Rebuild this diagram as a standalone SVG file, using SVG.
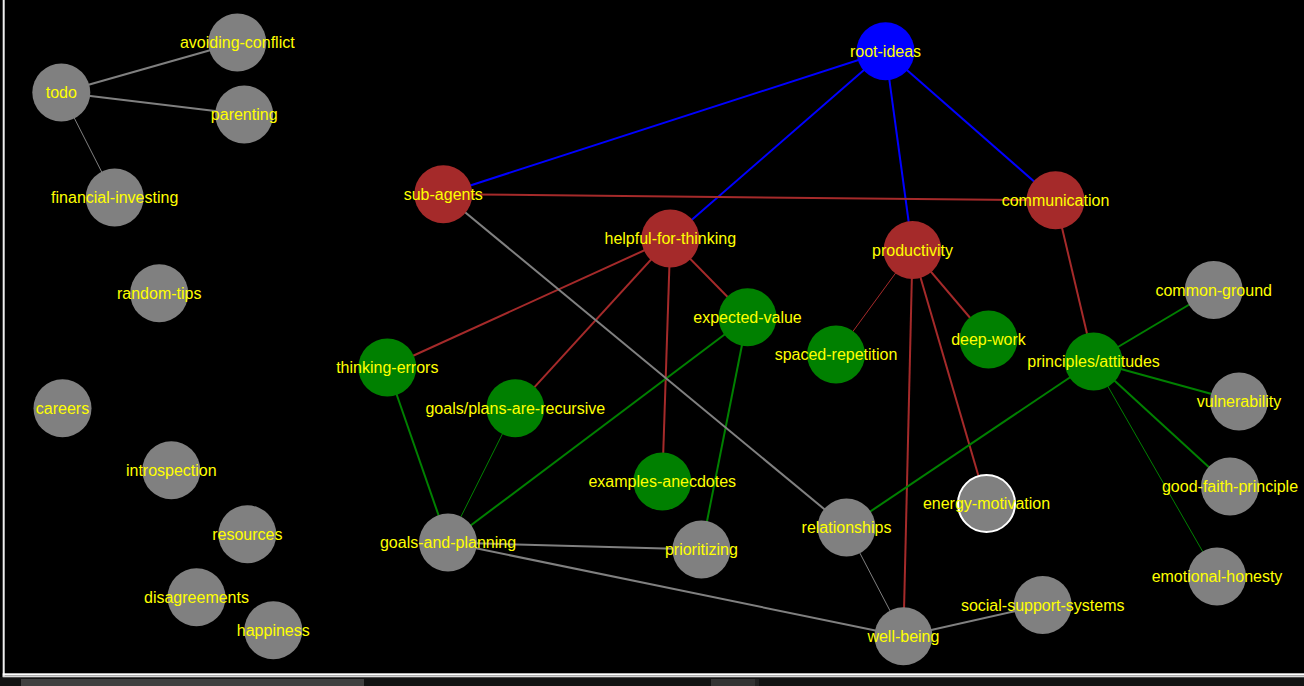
<svg xmlns="http://www.w3.org/2000/svg" width="1304" height="686" viewBox="0 0 1304 686">
<style>
.bg{fill:#000}
.root{fill:#0000ff}
.red{fill:#a52a2a}
.grn{fill:#008000}
.gry{fill:#808080}
.n circle.sel{fill:#808080;stroke:#ffffff;stroke-width:2}
.n text{font-family:"Liberation Sans",Arial,sans-serif;font-size:16px;fill:#ffff00;text-anchor:middle}
.e line{fill:none}
.eb{stroke:#0000ff;stroke-width:2}
.er{stroke:#a52a2a;stroke-width:2}
.eg{stroke:#008000;stroke-width:2}
.ey{stroke:#808080;stroke-width:2}
.e line.t1{stroke-width:1}
</style>
<rect class="bg" x="0" y="0" width="1304" height="686"/>
<rect x="0" y="677" width="1304" height="9" fill="#121212"/>
<rect x="21" y="679" width="343" height="7" fill="#404040"/>
<rect x="711" y="679" width="44" height="7" fill="#333333"/>
<rect x="755" y="679" width="4" height="7" fill="#222222"/>
<rect x="2.7" y="0" width="2" height="677" fill="#f0f0f0"/>
<rect x="2.7" y="673.3" width="1301.3" height="2.2" fill="#ffffff"/>
<rect x="2.7" y="675.5" width="1301.3" height="1.8" fill="#d8d8d8"/>
<g id="connectors" class="e">
<line class="eb" x1="885.5" y1="51.3" x2="443.3" y2="194.2"/>
<line class="eb" x1="885.5" y1="51.3" x2="670.3" y2="238.5"/>
<line class="eb" x1="885.5" y1="51.3" x2="912.5" y2="250"/>
<line class="eb" x1="885.5" y1="51.3" x2="1055.5" y2="200.3"/>
<line class="er" x1="443.3" y1="194.2" x2="1055.5" y2="200.3"/>
<line class="er" x1="670.3" y1="238.5" x2="387.3" y2="367.5"/>
<line class="er" x1="670.3" y1="238.5" x2="515.3" y2="408.2"/>
<line class="er" x1="670.3" y1="238.5" x2="662.3" y2="481.5"/>
<line class="er" x1="670.3" y1="238.5" x2="747.5" y2="317.3"/>
<line class="er t1" x1="912.5" y1="250" x2="836" y2="354.5"/>
<line class="er" x1="912.5" y1="250" x2="988.5" y2="339.5"/>
<line class="er" x1="912.5" y1="250" x2="903.4" y2="636.3"/>
<line class="er" x1="912.5" y1="250" x2="986.5" y2="503.5"/>
<line class="er" x1="1055.5" y1="200.3" x2="1093.6" y2="361.5"/>
<line class="eg" x1="387.3" y1="367.5" x2="448" y2="542.5"/>
<line class="eg t1" x1="515.3" y1="408.2" x2="448" y2="542.5"/>
<line class="eg" x1="747.5" y1="317.3" x2="448" y2="542.5"/>
<line class="eg" x1="747.5" y1="317.3" x2="701.4" y2="549.5"/>
<line class="eg" x1="1093.6" y1="361.5" x2="1213.7" y2="290"/>
<line class="eg" x1="1093.6" y1="361.5" x2="1239" y2="401.5"/>
<line class="eg" x1="1093.6" y1="361.5" x2="1230" y2="486.5"/>
<line class="eg t1" x1="1093.6" y1="361.5" x2="1217" y2="576.5"/>
<line class="eg" x1="1093.6" y1="361.5" x2="846.5" y2="527.5"/>
<line class="ey" x1="61.3" y1="92.5" x2="237.3" y2="42.5"/>
<line class="ey" x1="61.3" y1="92.5" x2="244.2" y2="114.5"/>
<line class="ey t1" x1="61.3" y1="92.5" x2="114.7" y2="197.5"/>
<line class="ey" x1="443.3" y1="194.2" x2="846.5" y2="527.5"/>
<line class="ey" x1="448" y1="542.5" x2="701.4" y2="549.5"/>
<line class="ey" x1="448" y1="542.5" x2="903.4" y2="636.3"/>
<line class="ey t1" x1="846.5" y1="527.5" x2="903.4" y2="636.3"/>
<line class="ey" x1="903.4" y1="636.3" x2="1042.7" y2="605"/>
</g>
<g id="node-root-ideas" class="n"><circle class="root" cx="885.5" cy="51.3" r="29"/><text x="885.5" y="56.8">root-ideas</text></g>
<g id="node-sub-agents" class="n"><circle class="red" cx="443.3" cy="194.2" r="29"/><text x="443.3" y="199.7">sub-agents</text></g>
<g id="node-communication" class="n"><circle class="red" cx="1055.5" cy="200.3" r="29"/><text x="1055.5" y="205.8">communication</text></g>
<g id="node-helpful-for-thinking" class="n"><circle class="red" cx="670.3" cy="238.5" r="29"/><text x="670.3" y="244">helpful-for-thinking</text></g>
<g id="node-productivity" class="n"><circle class="red" cx="912.5" cy="250" r="29"/><text x="912.5" y="255.5">productivity</text></g>
<g id="node-expected-value" class="n"><circle class="grn" cx="747.5" cy="317.3" r="29"/><text x="747.5" y="322.8">expected-value</text></g>
<g id="node-spaced-repetition" class="n"><circle class="grn" cx="836" cy="354.5" r="29"/><text x="836" y="360">spaced-repetition</text></g>
<g id="node-deep-work" class="n"><circle class="grn" cx="988.5" cy="339.5" r="29"/><text x="988.5" y="345">deep-work</text></g>
<g id="node-thinking-errors" class="n"><circle class="grn" cx="387.3" cy="367.5" r="29"/><text x="387.3" y="373">thinking-errors</text></g>
<g id="node-goals-plans-are-recursive" class="n"><circle class="grn" cx="515.3" cy="408.2" r="29"/><text x="515.3" y="413.7">goals/plans-are-recursive</text></g>
<g id="node-principles-attitudes" class="n"><circle class="grn" cx="1093.6" cy="361.5" r="29"/><text x="1093.6" y="367">principles/attitudes</text></g>
<g id="node-examples-anecdotes" class="n"><circle class="grn" cx="662.3" cy="481.5" r="29"/><text x="662.3" y="487">examples-anecdotes</text></g>
<g id="node-todo" class="n"><circle class="gry" cx="61.3" cy="92.5" r="29"/><text x="61.3" y="98">todo</text></g>
<g id="node-avoiding-conflict" class="n"><circle class="gry" cx="237.3" cy="42.5" r="29"/><text x="237.3" y="48">avoiding-conflict</text></g>
<g id="node-parenting" class="n"><circle class="gry" cx="244.2" cy="114.5" r="29"/><text x="244.2" y="120">parenting</text></g>
<g id="node-financial-investing" class="n"><circle class="gry" cx="114.7" cy="197.5" r="29"/><text x="114.7" y="203">financial-investing</text></g>
<g id="node-random-tips" class="n"><circle class="gry" cx="159.2" cy="293.3" r="29"/><text x="159.2" y="298.8">random-tips</text></g>
<g id="node-careers" class="n"><circle class="gry" cx="62.5" cy="408.3" r="29"/><text x="62.5" y="413.8">careers</text></g>
<g id="node-introspection" class="n"><circle class="gry" cx="171.3" cy="470.3" r="29"/><text x="171.3" y="475.8">introspection</text></g>
<g id="node-resources" class="n"><circle class="gry" cx="247.3" cy="534.3" r="29"/><text x="247.3" y="539.8">resources</text></g>
<g id="node-happiness" class="n"><circle class="gry" cx="273.3" cy="630.3" r="29"/><text x="273.3" y="635.8">happiness</text></g>
<g id="node-disagreements" class="n"><circle class="gry" cx="196.5" cy="597.3" r="29"/><text x="196.5" y="602.8">disagreements</text></g>
<g id="node-common-ground" class="n"><circle class="gry" cx="1213.7" cy="290" r="29"/><text x="1213.7" y="295.5">common-ground</text></g>
<g id="node-vulnerability" class="n"><circle class="gry" cx="1239" cy="401.5" r="29"/><text x="1239" y="407">vulnerability</text></g>
<g id="node-good-faith-principle" class="n"><circle class="gry" cx="1230" cy="486.5" r="29"/><text x="1230" y="492">good-faith-principle</text></g>
<g id="node-emotional-honesty" class="n"><circle class="gry" cx="1217" cy="576.5" r="29"/><text x="1217" y="582">emotional-honesty</text></g>
<g id="node-energy-motivation" class="n"><circle class="sel" cx="986.5" cy="503.5" r="28.5"/><text x="986.5" y="509">energy-motivation</text></g>
<g id="node-relationships" class="n"><circle class="gry" cx="846.5" cy="527.5" r="29"/><text x="846.5" y="533">relationships</text></g>
<g id="node-goals-and-planning" class="n"><circle class="gry" cx="448" cy="542.5" r="29"/><text x="448" y="548">goals-and-planning</text></g>
<g id="node-prioritizing" class="n"><circle class="gry" cx="701.4" cy="549.5" r="29"/><text x="701.4" y="555">prioritizing</text></g>
<g id="node-well-being" class="n"><circle class="gry" cx="903.4" cy="636.3" r="29"/><text x="903.4" y="641.8">well-being</text></g>
<g id="node-social-support-systems" class="n"><circle class="gry" cx="1042.7" cy="605" r="29"/><text x="1042.7" y="610.5">social-support-systems</text></g>
</svg>
